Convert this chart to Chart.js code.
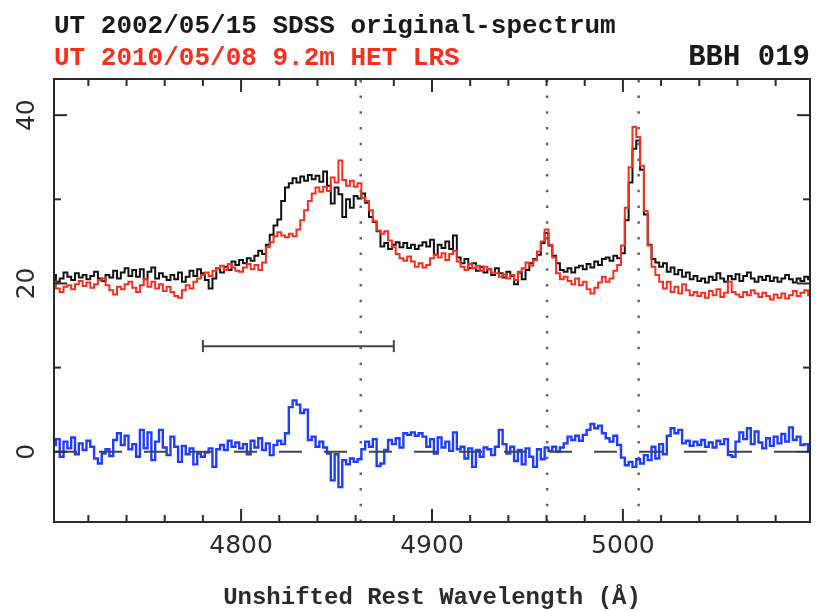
<!DOCTYPE html>
<html>
<head>
<meta charset="utf-8">
<script src="https://cdn.jsdelivr.net/npm/chart.js@4/dist/chart.umd.min.js"></script>
<style>
  html, body { margin: 0; padding: 0; background: #fff; }
  canvas { display: block; }
</style>
</head>
<body>
<canvas id="spec" width="818" height="611"></canvas>
<script>
// wavelength grid of the rebinned spectra (Angstrom)
const waveStart = 4702;
const waveStep = 2;

// SDSS 2002/05/15 flux
const sdssFlux = [
  21.0, 20.2, 20.6, 21.3, 20.8, 20.4, 21.2, 20.7, 21.0, 20.5,
  20.9, 21.4, 20.6, 20.3, 21.0, 20.7, 21.5, 20.6, 21.3, 21.8,
  20.9, 21.6, 20.8, 21.7, 20.5, 21.4, 21.9, 20.6, 21.2, 20.8,
  20.4, 21.0, 20.5, 21.3, 20.2, 20.8, 21.5, 20.9, 21.7, 21.2,
  20.4, 19.4, 20.6, 21.8, 21.3, 22.0, 21.6, 22.6, 22.2, 22.8,
  22.4, 23.0, 22.7, 23.3, 23.9, 23.5, 24.6, 25.8, 26.9, 27.6,
  29.8, 31.4, 31.9, 32.5, 32.0, 32.7, 32.2, 32.9, 32.4, 32.8,
  32.1, 33.3, 31.6, 29.5, 31.4, 30.6, 27.9, 30.0, 29.0, 30.4,
  30.1, 30.7, 29.6, 27.9, 27.3, 26.2, 24.4, 24.8, 24.1, 24.6,
  24.9, 24.3, 24.8, 24.2, 24.6, 24.1, 24.5, 24.9, 24.4, 25.2,
  23.4, 24.6, 24.2, 25.0, 24.1, 25.7, 23.1, 22.4, 22.9, 21.8,
  22.4, 21.5, 22.0, 21.3, 21.7, 21.0, 21.8, 21.2, 20.7, 21.4,
  20.9, 19.9, 21.3, 20.5, 21.6, 22.4, 22.9, 23.4, 24.8, 26.0,
  24.5, 23.3, 22.4, 21.6, 21.4, 21.8, 21.3, 21.9, 22.1, 21.7,
  22.3, 21.9, 22.6, 22.2, 22.9, 23.1, 22.7, 23.3, 23.0, 23.6,
  27.5, 32.0, 36.0, 37.0, 33.5, 28.2, 24.6, 22.9, 22.5, 22.0,
  22.4, 21.4, 21.9, 21.1, 21.6, 20.8, 21.3, 20.5, 20.9, 20.3,
  20.6, 20.1, 20.8, 20.4, 21.2, 20.6, 20.2, 20.9, 20.5, 21.1,
  20.3, 20.9, 21.3, 20.6, 20.2, 20.8, 20.4, 20.9, 20.3, 20.7,
  20.2, 20.6, 21.0, 20.5, 20.1, 20.6, 20.3, 20.8, 20.5
];

// HET LRS 2010/05/08 flux
const hetFlux = [
  20.2, 19.4, 19.0, 19.6, 19.8, 19.3, 19.9, 20.3, 19.7, 20.1,
  19.5, 19.9, 20.4, 20.6, 19.8, 19.2, 18.7, 19.6, 19.3, 19.9,
  20.2, 19.5, 19.0, 19.8, 20.5, 19.6, 20.2, 19.4, 19.9, 19.1,
  19.6, 19.0, 18.5, 18.3, 19.2, 19.8, 19.4, 20.2, 20.6, 21.0,
  21.3, 20.9, 21.5, 21.8, 22.1, 21.6, 22.3, 21.9, 21.5, 21.4,
  21.9, 22.3, 21.7, 22.2, 21.6, 22.5, 24.3, 24.9, 25.6, 26.1,
  25.7, 25.5, 25.9, 25.6, 26.4, 27.5, 28.7, 29.8, 30.7, 31.4,
  30.9, 31.5, 31.0, 32.6, 32.0, 34.6, 32.3, 31.6, 32.2, 31.5,
  31.9, 30.2, 29.8, 28.7, 27.4, 26.3, 25.9, 26.2, 25.1, 24.3,
  23.5, 23.0, 22.7, 23.2, 22.6, 22.0, 22.4, 21.9, 22.2, 23.0,
  23.4, 23.1, 23.6, 22.8, 23.5, 23.9, 22.6, 22.0, 21.6, 22.3,
  21.8, 22.1, 21.5, 22.0, 21.7, 21.3, 21.2, 20.8, 21.1, 20.6,
  21.0, 20.4, 21.4, 21.8, 22.5, 22.1, 22.8, 23.8, 25.0, 26.4,
  24.6, 23.1, 21.2, 20.5, 20.8, 20.3, 19.9, 20.6, 19.8, 20.2,
  19.3, 18.8, 19.5, 20.1, 20.8, 20.2, 20.6, 21.5, 22.2, 24.5,
  29.0, 33.8, 38.6, 37.4, 34.0, 28.6, 24.5, 22.0, 21.0, 20.2,
  19.4, 20.2, 19.0, 19.6, 18.8, 19.9, 19.2, 18.6, 19.0, 18.5,
  18.9, 18.3, 19.1, 18.6, 19.3, 18.4, 18.9, 20.2, 19.0, 18.7,
  18.4, 19.0, 18.6, 19.2, 18.8, 18.4, 18.9, 18.5, 18.1, 18.7,
  18.3, 18.8, 18.2, 18.6, 19.1, 18.5, 18.9, 19.2, 18.6
];

// difference spectrum
const diffFlux = [
  0.8, 1.5, -0.6, 1.2, 0.4, 1.7, -0.3, 1.0, 0.2, 1.3,
  0.6, -0.8, -1.4, -0.2, 0.3, -0.5, 1.4, 2.2, 0.8, 1.9,
  0.3, 0.9, -0.6, 2.6, 0.4, 2.3, -1.0, 1.2, 2.6, 0.5,
  -0.4, 1.8, 0.6, -1.2, 0.7, -0.3, 0.4, -1.5, -0.2, -0.6,
  -0.1, 0.4, -1.8, 0.3, 0.8, 0.2, 1.3, 0.6, 1.1, 0.4,
  0.9, -0.3, 1.3, 0.5, 1.6, 0.2, 1.0, -0.4, 0.8, 1.3,
  0.9, 2.2, 5.3, 6.1, 5.6, 4.6, 5.0, 1.4, 1.8, 0.6,
  1.2, 0.5, -0.2, -3.4, -0.3, -4.2, -1.0, -1.5, -0.8, -1.2,
  -0.9, 0.3, 1.2, 0.6, 1.5, -1.7, -1.4, 0.2, 1.4, 0.9,
  1.6, 0.5, 2.2, 2.0, 2.3, 1.9, 2.2, 1.8, 0.6, 1.5,
  -0.2, 1.7, 0.5, 1.2, 0.1, 2.3, 0.3, 0.6, -0.8, 0.4,
  -1.8, 0.2, -0.6, 0.5, 0.3, -0.4, 0.6, 2.6, 0.9, -0.2,
  0.6, -1.1, 0.2, -1.5, 0.4, -0.6, -1.8, 0.3, -0.9, 0.5,
  0.1, 0.6, 0.0, 0.5, 1.0, 1.8, 1.4, 1.9, 1.3, 2.0,
  2.6, 3.3, 2.8, 3.1, 2.2, 1.6, 1.2, 1.9, 0.8, -0.7,
  -1.6, -1.2, -1.8, -0.9, -1.4, -0.4, -1.0, 0.6, -0.8, 0.9,
  -0.3, 1.9, 2.8, 2.2, 2.6, 1.0, 1.3, 0.7, 1.2, 0.8,
  1.4, 0.6, 1.1, 0.5, 1.3, 0.9, 1.5, -0.4, -0.6, 1.2,
  2.3, 1.5, 2.8, 0.9, 2.4, 1.1, 0.4, 1.6, 0.7, 1.8,
  1.0, 2.1, 1.2, 2.9, 1.4, 1.8, 0.8, 0.9, 0.0
];

// H-beta, [OIII] 4959, [OIII] 5007 (vacuum)
const lineWaves = [4862.68, 4960.30, 5008.24];
// wavelength window marker
const windowRange = [4780, 4880];
const windowLevel = 12.55;

const xMajorTicks = [4800, 4900, 5000];
const xMinorTicks = [4720, 4740, 4760, 4780, 4820, 4840, 4860, 4880,
                     4920, 4940, 4960, 4980, 5020, 5040, 5060, 5080];
const yMajorTicks = [0, 20, 40];
const yMinorTicks = [10, 30];

const titleTop = "UT 2002/05/15 SDSS original-spectrum";
const titleBottom = "UT 2010/05/08 9.2m HET LRS";
const objectName = "BBH 019";
const xTitle = "Unshifted Rest Wavelength (\u00C5)";

const xMin = 4702, xMax = 5098;
const yMin = -8.35, yMax = 44.3;

const wave = sdssFlux.map((_, i) => waveStart + i * waveStep);
const toPoints = vals => vals.map((v, i) => ({x: wave[i], y: v}));

const INK = "#2b2b2b";
const RED = "#f5301e";
const BLUE = "#1f3dff";

const spectrumStyle = (color, width, order) => ({
  borderColor: color,
  borderWidth: width,
  pointRadius: 0,
  stepped: "middle",
  fill: false,
  order: order
});

const datasets = [
  Object.assign({data: toPoints(sdssFlux)}, spectrumStyle("#111", 2, 4)),
  Object.assign({data: toPoints(hetFlux)}, spectrumStyle(RED, 2, 3)),
  Object.assign({data: toPoints(diffFlux)}, spectrumStyle(BLUE, 2.4, 2)),
  {
    data: [{x: xMin, y: 0}, {x: xMax, y: 0}],
    borderColor: "#444",
    borderWidth: 2,
    borderDash: [23, 22],
    pointRadius: 0,
    order: 1
  },
  {
    data: windowRange.map(w => ({x: w, y: windowLevel})),
    borderColor: "#444",
    borderWidth: 2,
    pointStyle: "line",
    rotation: 90,
    pointRadius: 6,
    pointBorderColor: "#444",
    pointBorderWidth: 2,
    order: 5
  }
];

lineWaves.forEach(w => {
  datasets.push({
    data: [{x: w, y: yMin}, {x: w, y: yMax}],
    borderColor: "#666",
    borderWidth: 2.5,
    borderDash: [2.5, 13.2],
    pointRadius: 0,
    order: 6
  });
});

// frame with inward ticks, tick labels and header text
const frame = {
  id: "frame",
  afterDraw(chart) {
    const {ctx, chartArea: a, scales: {x, y}} = chart;
    ctx.save();
    ctx.strokeStyle = INK;
    ctx.lineWidth = 2;
    ctx.strokeRect(a.left, a.top, a.right - a.left, a.bottom - a.top);

    const tick = (x1, y1, x2, y2) => {
      ctx.beginPath(); ctx.moveTo(x1, y1); ctx.lineTo(x2, y2); ctx.stroke();
    };
    xMajorTicks.forEach(v => {
      const px = x.getPixelForValue(v);
      tick(px, a.bottom, px, a.bottom - 13);
      tick(px, a.top, px, a.top + 13);
    });
    xMinorTicks.forEach(v => {
      const px = x.getPixelForValue(v);
      tick(px, a.bottom, px, a.bottom - 7);
      tick(px, a.top, px, a.top + 7);
    });
    yMajorTicks.forEach(v => {
      const py = y.getPixelForValue(v);
      tick(a.left, py, a.left + 13, py);
      tick(a.right, py, a.right - 13, py);
    });
    yMinorTicks.forEach(v => {
      const py = y.getPixelForValue(v);
      tick(a.left, py, a.left + 7, py);
      tick(a.right, py, a.right - 7, py);
    });

    ctx.fillStyle = INK;
    ctx.font = '25px "DejaVu Sans"';
    ctx.textAlign = "center";
    ctx.textBaseline = "middle";
    xMajorTicks.forEach(v => {
      ctx.fillText(String(v), x.getPixelForValue(v), 546);
    });
    yMajorTicks.forEach(v => {
      ctx.save();
      ctx.translate(27, y.getPixelForValue(v));
      ctx.rotate(-Math.PI / 2);
      ctx.fillText(String(v), 0, 0);
      ctx.restore();
    });

    ctx.font = 'bold 24px "Liberation Mono"';
    ctx.fillText(xTitle, (a.left + a.right) / 2, 598);

    ctx.font = 'bold 26px "Liberation Mono"';
    ctx.textBaseline = "alphabetic";
    ctx.textAlign = "left";
    ctx.fillStyle = "#1a1a1a";
    ctx.fillText(titleTop, a.left, 33);
    ctx.fillStyle = RED;
    ctx.fillText(titleBottom, a.left, 65);
    ctx.textAlign = "right";
    ctx.fillStyle = "#1a1a1a";
    ctx.font = 'bold 29px "Liberation Mono"';
    ctx.fillText(objectName, a.right, 65);
    ctx.restore();
  }
};

new Chart("spec", {
  type: "line",
  data: {datasets: datasets},
  options: {
    responsive: false,
    animation: false,
    layout: {padding: {left: 54, top: 79, right: 6, bottom: 89}},
    plugins: {legend: {display: false}, tooltip: {enabled: false}},
    scales: {
      x: {type: "linear", min: xMin, max: xMax, display: false},
      y: {type: "linear", min: yMin, max: yMax, display: false}
    }
  },
  plugins: [frame]
});
</script>
</body>
</html>
